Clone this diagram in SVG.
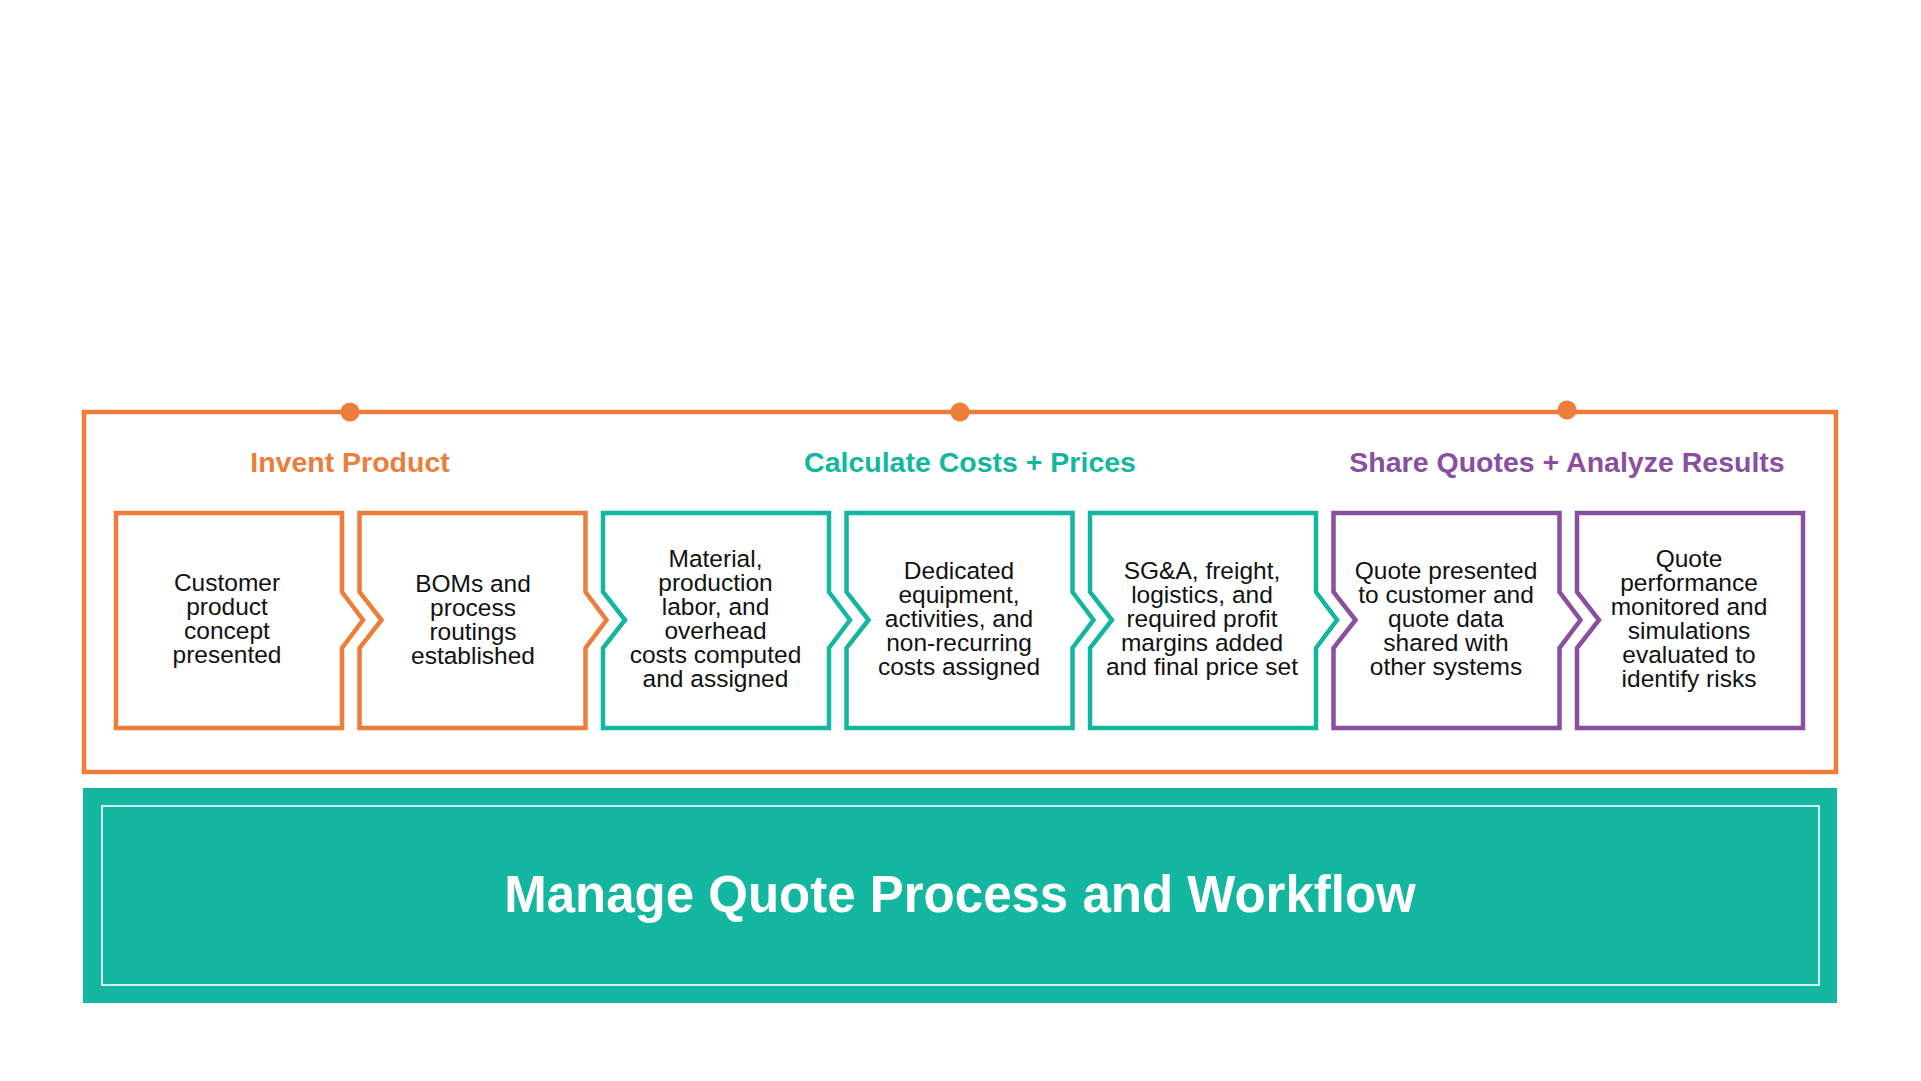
<svg xmlns="http://www.w3.org/2000/svg" width="1921" height="1081" viewBox="0 0 1921 1081">
<defs>
<style>
.or{stroke:#ED7D3A}
.tl{stroke:#13B7A0}
.pu{stroke:#8A4F9F}
.box{fill:#fff;stroke-width:4.5;stroke-linejoin:miter}
.t{font-family:"Liberation Sans",Arial,sans-serif;font-size:24.5px;fill:#111;text-anchor:middle}
.h{font-family:"Liberation Sans",Arial,sans-serif;font-size:28.5px;font-weight:bold;text-anchor:middle}
</style>
</defs>
<rect width="1921" height="1081" fill="#fff"/>
<g id="frame">
<rect x="84" y="412" width="1752" height="360" fill="none" stroke="#ED7D3A" stroke-width="4.5"/>
<circle cx="350" cy="412" r="9.5" fill="#ED7D3A"/>
<circle cx="960" cy="412" r="9.5" fill="#ED7D3A"/>
<circle cx="1567" cy="410" r="9.5" fill="#ED7D3A"/>
</g>
<g id="headings">
<text class="h" x="350" y="471.5" fill="#ED7D3A">Invent Product</text>
<text class="h" x="970" y="471.5" fill="#13B7A0">Calculate Costs + Prices</text>
<text class="h" x="1567" y="471.5" fill="#8A4F9F">Share Quotes + Analyze Results</text>
</g>
<g id="connectors"></g>
<g id="step1">
<path class="box or" d="M116,513 H342 V592 L363,620 L342,648 V728 H116 Z"/>
<text class="t" x="227" y="590.5"><tspan x="227">Customer</tspan><tspan x="227" dy="24">product</tspan><tspan x="227" dy="24">concept</tspan><tspan x="227" dy="24">presented</tspan></text>
</g>
<g id="step2">
<path class="box or" d="M359.5,513 H585.5 V592 L606.5,620 L585.5,648 V728 H359.5 V648 L381.5,620 L359.5,592 Z"/>
<text class="t" x="473" y="591.5"><tspan x="473">BOMs and</tspan><tspan x="473" dy="24">process</tspan><tspan x="473" dy="24">routings</tspan><tspan x="473" dy="24">established</tspan></text>
</g>
<g id="step3">
<path class="box tl" d="M603,513 H829 V592 L850,620 L829,648 V728 H603 V648 L625,620 L603,592 Z"/>
<text class="t" x="715.5" y="566.5"><tspan x="715.5">Material,</tspan><tspan x="715.5" dy="24">production</tspan><tspan x="715.5" dy="24">labor, and</tspan><tspan x="715.5" dy="24">overhead</tspan><tspan x="715.5" dy="24">costs computed</tspan><tspan x="715.5" dy="24">and assigned</tspan></text>
</g>
<g id="step4">
<path class="box tl" d="M846.5,513 H1072.5 V592 L1093.5,620 L1072.5,648 V728 H846.5 V648 L868.5,620 L846.5,592 Z"/>
<text class="t" x="959" y="578.5"><tspan x="959">Dedicated</tspan><tspan x="959" dy="24">equipment,</tspan><tspan x="959" dy="24">activities, and</tspan><tspan x="959" dy="24">non-recurring</tspan><tspan x="959" dy="24">costs assigned</tspan></text>
</g>
<g id="step5">
<path class="box tl" d="M1090,513 H1316 V592 L1337,620 L1316,648 V728 H1090 V648 L1112,620 L1090,592 Z"/>
<text class="t" x="1202" y="578.5"><tspan x="1202">SG&amp;A, freight,</tspan><tspan x="1202" dy="24">logistics, and</tspan><tspan x="1202" dy="24">required profit</tspan><tspan x="1202" dy="24">margins added</tspan><tspan x="1202" dy="24">and final price set</tspan></text>
</g>
<g id="step6">
<path class="box pu" d="M1333.5,513 H1559.5 V592 L1580.5,620 L1559.5,648 V728 H1333.5 V648 L1355.5,620 L1333.5,592 Z"/>
<text class="t" x="1446" y="578.5"><tspan x="1446">Quote presented</tspan><tspan x="1446" dy="24">to customer and</tspan><tspan x="1446" dy="24">quote data</tspan><tspan x="1446" dy="24">shared with</tspan><tspan x="1446" dy="24">other systems</tspan></text>
</g>
<g id="step7">
<path class="box pu" d="M1577,513 H1803 V728 H1577 V648 L1599,620 L1577,592 Z"/>
<text class="t" x="1689" y="566.5"><tspan x="1689">Quote</tspan><tspan x="1689" dy="24">performance</tspan><tspan x="1689" dy="24">monitored and</tspan><tspan x="1689" dy="24">simulations</tspan><tspan x="1689" dy="24">evaluated to</tspan><tspan x="1689" dy="24">identify risks</tspan></text>
</g>
<g id="workflow">
<rect x="83" y="788" width="1754" height="215" fill="#13B7A0"/>
<rect x="102" y="806" width="1717" height="179" fill="none" stroke="#fff" stroke-width="1.8" stroke-opacity="0.9"/>
<text x="960" y="912" font-family="'Liberation Sans',Arial,sans-serif" font-size="51" font-weight="bold" fill="#fff" text-anchor="middle">Manage Quote Process and Workflow</text>
</g>
</svg>
